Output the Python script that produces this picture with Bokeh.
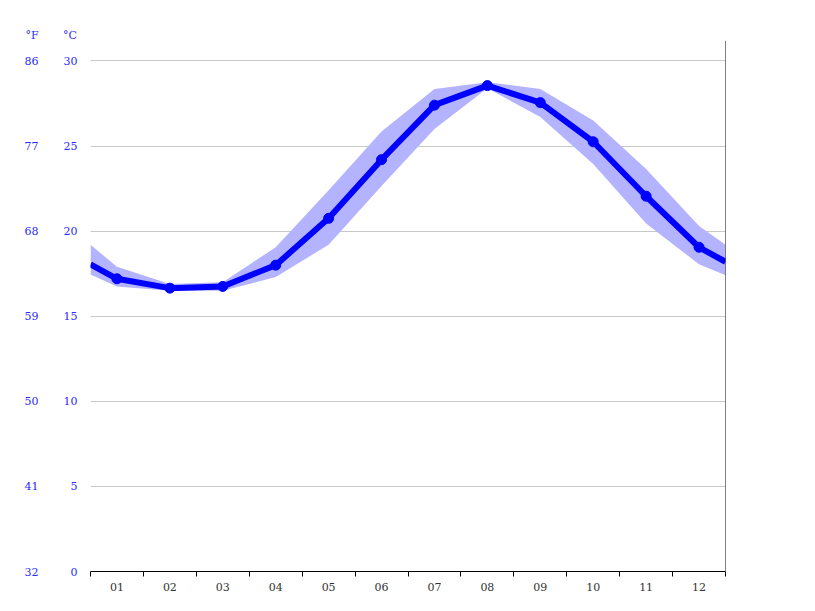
from bokeh.plotting import figure
from bokeh.models import (Range1d, LinearAxis, FixedTicker, Span, Title, ColumnDataSource)
from bokeh.embed import file_html
from bokeh.resources import INLINE

# ---- data (°C) ----
month_labels = ["01", "02", "03", "04", "05", "06", "07", "08", "09", "10", "11", "12"]
months = [1, 2, 3, 4, 5, 6, 7, 8, 9, 10, 11, 12]
mean_c = [17.2, 16.65, 16.75, 18.0, 20.75, 24.2, 27.4, 28.55, 27.55, 25.25, 22.05, 19.05]
upper_c = [17.9, 16.9, 17.0, 19.05, 22.4, 25.85, 28.35, 28.75, 28.35, 26.5, 23.65, 20.3]
lower_c = [16.75, 16.5, 16.5, 17.3, 19.2, 22.65, 26.0, 28.4, 26.7, 23.95, 20.45, 18.05]
# values at the chart edges (Dec/Jan wrap-around)
edge_x = [0.5, 12.5]
edge_mean = [18.05, 18.2]
edge_upper = [19.2, 19.2]
edge_lower = [17.45, 17.4]
c_ticks = [0, 5, 10, 15, 20, 25, 30]
f_ticks = [32, 41, 50, 59, 68, 77, 86]
unit_headers = ["°F", "°C"]

YMAX = 31.2

line_x = [edge_x[0]] + months + [edge_x[1]]
line_y = [edge_mean[0]] + mean_c + [edge_mean[1]]
band_up = [edge_upper[0]] + upper_c + [edge_upper[1]]
band_lo = [edge_lower[0]] + lower_c + [edge_lower[1]]

p = figure(width=815, height=611, output_backend="svg", toolbar_location=None,
           x_range=Range1d(0.5, 12.5), y_range=Range1d(0, YMAX),
           min_border_left=90, min_border_right=90, min_border_top=40, min_border_bottom=40,
           x_axis_location=None, y_axis_location=None)
p.outline_line_color = None
p.background_fill_color = "white"
p.border_fill_color = "white"

p.extra_y_ranges = {"f": Range1d(32, 32 + YMAX * 9 / 5)}

# grid
p.ygrid.ticker = FixedTicker(ticks=c_ticks[1:])
p.ygrid.grid_line_color = "#c8c8c8"
p.ygrid.grid_line_width = 1
p.xgrid.grid_line_color = None

font = "DejaVu Serif"
blue_txt = "#2a2aff"

# °C axis (closest to plot)
ax_c = LinearAxis(ticker=FixedTicker(ticks=c_ticks))
ax_c.axis_line_color = None
ax_c.major_tick_line_color = None
ax_c.minor_tick_line_color = None
ax_c.major_label_text_color = blue_txt
ax_c.major_label_text_font = font
ax_c.major_label_text_font_size = "11px"
ax_c.major_label_standoff = 7
p.add_layout(ax_c, "left")

ax_f = LinearAxis(y_range_name="f", ticker=FixedTicker(ticks=f_ticks))
ax_f.axis_line_color = None
ax_f.major_tick_line_color = None
ax_f.minor_tick_line_color = None
ax_f.major_label_text_color = blue_txt
ax_f.major_label_text_font = font
ax_f.major_label_text_font_size = "11px"
ax_f.major_label_standoff = 16
p.add_layout(ax_f, "left")

# x axis
ax_x = LinearAxis(ticker=FixedTicker(ticks=months, minor_ticks=[m + 0.5 for m in [0] + months]))
ax_x.major_label_overrides = {m: lab for m, lab in zip(months, month_labels)}
ax_x.major_tick_line_color = None
ax_x.minor_tick_line_color = "black"
ax_x.minor_tick_in = 0
ax_x.minor_tick_out = 5
ax_x.axis_line_color = "black"
ax_x.major_label_text_color = "#333333"
ax_x.major_label_text_font = font
ax_x.major_label_text_font_size = "11px"
ax_x.major_label_standoff = 5
p.add_layout(ax_x, "below")

# right border line
p.add_layout(Span(location=12.5, dimension="height", line_color="black", line_width=1))

# band and line
src = ColumnDataSource(dict(x=line_x, up=band_up, lo=band_lo, y=line_y))
p.varea(x="x", y1="lo", y2="up", source=src, fill_color="#b3b3ff", fill_alpha=1)
p.line(x="x", y="y", source=src, line_color="#0000ff", line_width=6, line_join="round")
p.scatter(x=months, y=mean_c, size=10, color="#0000ff")

# unit headers (as a title line above the plot area)
header = unit_headers[0] + "\u00a0" * 7 + unit_headers[1]
p.add_layout(Title(text=header, align="left", offset=-65, standoff=-3,
                   text_font=font, text_font_size="11px", text_color=blue_txt,
                   text_font_style="normal"), "above")

open("out.html", "w").write(file_html(p, INLINE))
